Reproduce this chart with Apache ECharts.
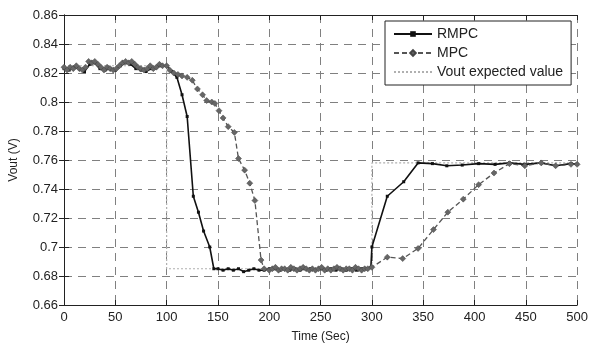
<!DOCTYPE html>
<html lang="en">
<head>
    <meta charset="UTF-8">
    <script type="text/javascript" src="https://cdn.jsdelivr.net/npm/echarts@6/dist/echarts.min.js"></script>
    <title>Vout</title>
    <style>
        html, body { margin: 0; padding: 0; background: #fff; }
    </style>
</head>
<body>
<div id="main" style="width: 591px;height:348px;"></div>
<script type="text/javascript">
    // tick labels / axis
    var xTicks = [0, 50, 100, 150, 200, 250, 300, 350, 400, 450, 500];
    var yTicks = [0.66, 0.68, 0.7, 0.72, 0.74, 0.76, 0.78, 0.8, 0.82, 0.84, 0.86];
    var seriesNames = ['RMPC', 'MPC', 'Vout expected value'];

    // [time (sec), vout (V)]
    var rmpcData = [
        [0,0.823],[5,0.822],[10,0.824],[15,0.823],[20,0.821],[25,0.826],[30,0.827],[35,0.823],[40,0.822],[45,0.823],
        [50,0.822],[55,0.825],[60,0.827],[65,0.826],[70,0.823],[75,0.822],[80,0.821],[85,0.823],[90,0.824],[95,0.825],
        [100,0.825],[105,0.821],[110,0.817],[115,0.805],[120,0.790],[126,0.735],[131,0.724],[136,0.711],[142,0.700],[146,0.685],
        [150,0.685],[155,0.684],[160,0.685],[165,0.684],[170,0.685],[175,0.683],[180,0.684],[185,0.685],[190,0.684],[195,0.684],
        [200,0.685],[205,0.685],[210,0.684],[215,0.685],[220,0.684],[225,0.685],[230,0.684],[235,0.685],[240,0.685],[245,0.684],
        [250,0.685],[255,0.684],[260,0.685],[265,0.684],[270,0.685],[275,0.684],[280,0.685],[285,0.684],[290,0.685],[295,0.685],
        [299,0.686],[300,0.700],[315,0.735],[331,0.745],[345,0.758],[359,0.7575],[373,0.756],[388,0.7565],[404,0.7575],[420,0.757],
        [434,0.758],[449,0.757],[465,0.758],[479,0.756],[494,0.7575],[500,0.757]
    ];

    var mpcData = [
        [0,0.824],[3,0.822],[6,0.824],[9,0.823],[12,0.825],[15,0.823],[18,0.822],[21,0.824],[24,0.828],[27,0.827],
        [30,0.828],[33,0.826],[36,0.824],[39,0.822],[42,0.824],[45,0.823],[48,0.822],[51,0.823],[54,0.825],[57,0.827],
        [60,0.828],[63,0.827],[66,0.828],[69,0.826],[72,0.824],[75,0.823],[78,0.822],[81,0.823],[84,0.825],[87,0.823],
        [90,0.824],[93,0.826],[96,0.825],[100,0.825],
        [103,0.822],[107,0.820],[111,0.819],[115,0.818],[120,0.817],[125,0.815],[130,0.809],[135,0.805],[139,0.801],[144,0.800],
        [147,0.799],[151,0.794],[155,0.789],[160,0.783],[166,0.779],[170,0.761],[176,0.753],[181,0.744],[186,0.732],[192,0.691],
        [195,0.685],[200,0.684],[203,0.685],[206,0.686],[209,0.684],[212,0.685],[215,0.685],[218,0.684],[221,0.686],[224,0.685],
        [227,0.684],[230,0.685],[233,0.686],[236,0.685],[239,0.684],[242,0.685],[245,0.684],[248,0.685],[251,0.686],[254,0.684],
        [257,0.685],[260,0.684],[263,0.685],[266,0.686],[269,0.685],[272,0.684],[275,0.685],[278,0.685],[281,0.684],[284,0.686],
        [287,0.685],[290,0.684],[293,0.685],[296,0.685],[300,0.686],
        [315,0.693],[330,0.692],[345,0.699],[360,0.712],[374,0.724],[389,0.733],[404,0.743],[419,0.751],[434,0.7575],[449,0.756],
        [465,0.758],[479,0.756],[494,0.757],[500,0.757]
    ];

    var refData = [[0,0.825],[100,0.825],[100,0.685],[300,0.685],[300,0.758],[500,0.758]];

    var myChart = echarts.init(document.getElementById('main'));
    var font = '"Liberation Sans", Arial, sans-serif';

    var gridLine = {show: true, lineStyle: {color: '#808080', type: [8, 6], width: 1}};
    var tickIn = {show: true, inside: true, length: 5, lineStyle: {color: '#222'}};
    var axLine = {show: true, lineStyle: {color: '#222', width: 1}};

    option = {
        animation: false,
        textStyle: {fontFamily: font},
        grid: {left: 60, right: 11, top: 15, bottom: 38},
        legend: {
            orient: 'vertical',
            left: 385,
            top: 21,
            data: [
                {name: seriesNames[0]},
                {name: seriesNames[1]},
                {name: seriesNames[2], itemStyle: {opacity: 0}}
            ],
            backgroundColor: '#fff',
            borderColor: '#222',
            borderWidth: 1,
            padding: [6, 8, 6, 8],
            itemGap: 5,
            itemWidth: 38,
            itemHeight: 7,
            textStyle: {fontSize: 14, color: '#222', fontFamily: font}
        },
        xAxis: [
            {
                type: 'value', min: 0, max: 500, interval: 50,
                name: 'Time (Sec)', nameLocation: 'middle', nameGap: 26,
                nameTextStyle: {fontSize: 12, color: '#222'},
                axisLine: axLine, axisTick: tickIn, splitLine: gridLine,
                axisLabel: {fontSize: 13, color: '#222', margin: 6}
            },
            {
                type: 'value', position: 'top', min: 0, max: 500, interval: 50,
                axisLine: axLine, axisTick: tickIn, splitLine: {show: false}, axisLabel: {show: false}
            }
        ],
        yAxis: [
            {
                type: 'value', min: 0.66, max: 0.86, interval: 0.02,
                name: 'Vout (V)', nameLocation: 'middle', nameGap: 44, nameRotate: 90,
                nameTextStyle: {fontSize: 12, color: '#222'},
                axisLine: axLine, axisTick: tickIn, splitLine: gridLine,
                axisLabel: {fontSize: 13, color: '#222', margin: 6}
            },
            {
                type: 'value', position: 'right', min: 0.66, max: 0.86, interval: 0.02,
                axisLine: axLine, axisTick: tickIn, splitLine: {show: false}, axisLabel: {show: false}
            }
        ],
        series: [
            {
                name: seriesNames[2],
                type: 'line',
                data: refData,
                symbol: 'none',
                lineStyle: {color: '#b0b0b0', width: 1.2, type: [2, 2]},
                itemStyle: {color: '#b0b0b0'},
                z: 1
            },
            {
                name: seriesNames[0],
                type: 'line',
                data: rmpcData,
                symbol: 'rect',
                symbolSize: 3,
                lineStyle: {color: '#111', width: 1.6},
                itemStyle: {color: '#111'},
                z: 2
            },
            {
                name: seriesNames[1],
                type: 'line',
                data: mpcData,
                symbol: 'diamond',
                symbolSize: 6,
                lineStyle: {color: '#555', width: 1.3, type: [5, 3]},
                itemStyle: {color: '#666', borderColor: '#444', borderWidth: 0.5},
                z: 3
            }
        ]
    };
    myChart.setOption(option);
</script>
</body>
</html>
